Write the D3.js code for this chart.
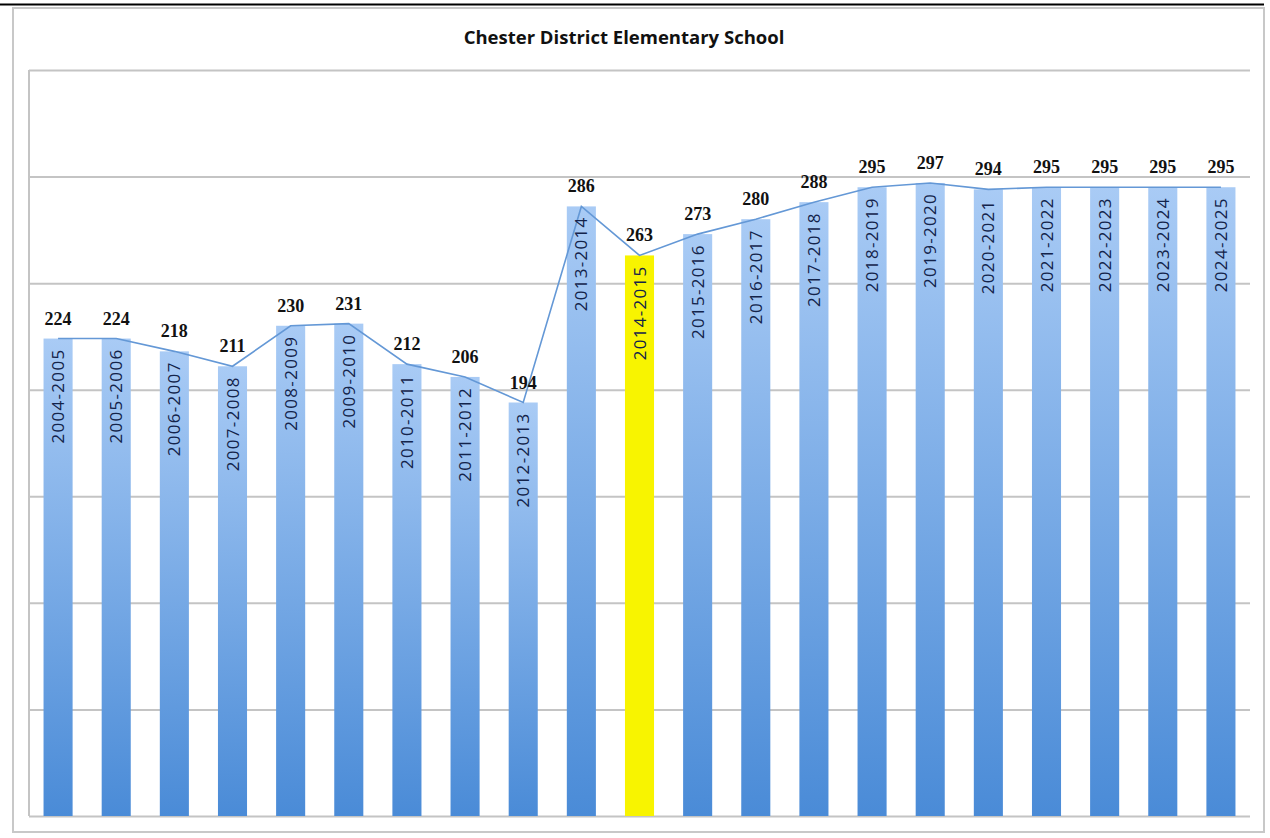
<!DOCTYPE html>
<html>
<head>
<meta charset="utf-8" />
<title>Chester District Elementary School</title>
<style>
  body { margin: 0; background: #fff; }
  .grid line { stroke: #c4c4c4; stroke-width: 2px; }
  .grid path { display: none; }
  .val { font-family: "Liberation Serif", serif; font-weight: bold; font-size: 18px; fill: #111; }
  .cat { font-family: "Open Sans", sans-serif; font-size: 17px; letter-spacing: 1.3px; fill: #13234a; }
  .title { font-family: "Open Sans", sans-serif; font-weight: bold; font-size: 18.5px; fill: #111; }
</style>
</head>
<body>
<script src="https://d3js.org/d3.v7.min.js"></script>
<script>
var years = ["2004-2005","2005-2006","2006-2007","2007-2008","2008-2009","2009-2010","2010-2011",
  "2011-2012","2012-2013","2013-2014","2014-2015","2015-2016","2016-2017","2017-2018",
  "2018-2019","2019-2020","2020-2021","2021-2022","2022-2023","2023-2024","2024-2025"];
var enrollment = [224,224,218,211,230,231,212,206,194,286,263,273,280,288,295,297,294,295,295,295,295];
var highlight = "2014-2015";
var gridTicks = [0,50,100,150,200,250,300,350];

var width = 1270, height = 838;
var plotLeft = 29, plotRight = 1250, plotTop = 70, plotBottom = 816;

var svg = d3.select("body").append("svg")
    .attr("width", width)
    .attr("height", height);

// top black rule and outer frame
svg.append("line")
    .attr("x1", 0).attr("x2", 1264).attr("y1", 4.5).attr("y2", 4.5)
    .style("stroke", "#000").style("stroke-width", 2);
svg.append("rect")
    .attr("x", 13).attr("y", 8).attr("width", 1251).attr("height", 824)
    .style("fill", "#fff").style("stroke", "#c8c8c8").style("stroke-width", 2);

var defs = svg.append("defs");
var grad = defs.append("linearGradient").attr("id", "barGrad")
    .attr("x1", 0).attr("y1", 0).attr("x2", 0).attr("y2", 1);
grad.append("stop").attr("offset", "0%").attr("stop-color", "#a9cbf5");
grad.append("stop").attr("offset", "100%").attr("stop-color", "#4a8bd7");

var x = d3.scaleBand().domain(years).range([plotLeft, plotRight]).paddingInner(0.5).paddingOuter(0.25);
var y = d3.scaleLinear().domain([0, 350]).range([plotBottom, plotTop]);

svg.append("text").attr("class", "title")
    .attr("x", 624).attr("y", 44)
    .attr("text-anchor", "middle")
    .text("Chester District Elementary School");

svg.append("g").attr("class", "grid")
    .attr("transform", "translate(" + plotLeft + ",0)")
    .call(d3.axisLeft(y).tickValues(gridTicks).tickSize(-(plotRight - plotLeft)).tickFormat(""));

// left axis line
svg.append("line")
    .attr("x1", plotLeft).attr("x2", plotLeft).attr("y1", plotTop).attr("y2", plotBottom)
    .style("stroke", "#c4c4c4").style("stroke-width", 2);

svg.selectAll(".bar")
    .data(years)
    .enter()
    .append("rect")
    .attr("class", "bar")
    .attr("x", function(d) { return x(d); })
    .attr("y", function(d, i) { return y(enrollment[i]); })
    .attr("width", x.bandwidth())
    .attr("height", function(d, i) { return plotBottom - y(enrollment[i]); })
    .style("fill", function(d) { return d == highlight ? "#f8f400" : "url(#barGrad)"; });

var line = d3.line()
    .x(function(d, i) { return x(years[i]) + x.bandwidth() / 2; })
    .y(function(d) { return y(d); });

svg.append("path")
    .datum(enrollment)
    .attr("d", line)
    .style("fill", "none")
    .style("stroke", "#6498d6")
    .style("stroke-width", 1.6);

svg.selectAll(".val")
    .data(years)
    .enter()
    .append("text")
    .attr("class", "val")
    .attr("x", function(d) { return x(d) + x.bandwidth() / 2; })
    .attr("y", function(d, i) { return y(enrollment[i]) - 14; })
    .attr("text-anchor", "middle")
    .text(function(d, i) { return enrollment[i]; });

svg.selectAll(".cat")
    .data(years)
    .enter()
    .append("text")
    .attr("class", "cat")
    .attr("transform", function(d, i) {
        return "translate(" + (x(d) + x.bandwidth() / 2 + 6) + "," + (y(enrollment[i]) + 10) + ") rotate(-90)";
    })
    .attr("text-anchor", "end")
    .text(function(d) { return d; });
</script>
</body>
</html>
